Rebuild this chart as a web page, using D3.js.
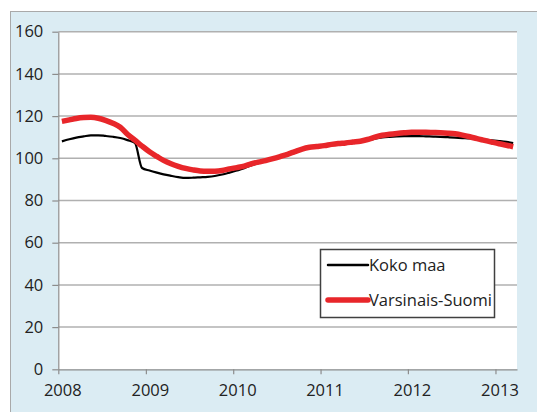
<!DOCTYPE html>
<html>
<head>
<meta charset="utf-8">
<script src="https://cdn.jsdelivr.net/npm/d3@7"></script>
<style>
  body { margin: 0; background: #fff; }
  svg text { font-family: "Open Sans", sans-serif; fill: #222; }
</style>
</head>
<body>
<div id="chart"></div>
<script>
//Width and height
var w = 537;
var h = 412;

// monthly index, Jan 2008 .. Mar 2013
var months = d3.range(0, 63).map(function (i) {
  return d3.timeFormat("%Y-%m")(new Date(2008, i, 1));
});

var kokoMaa = [108.0, 109.0, 109.8, 110.4, 110.9, 110.9, 110.6, 110.2, 109.6, 108.6,
               107.3, 95.4, 94.2, 93.2, 92.4, 91.7, 91.1, 90.7, 90.8, 91.0,
               91.2, 91.6, 92.3, 93.2, 94.2, 95.3, 96.6, 97.7, 98.6, 99.5,
               100.5, 101.6, 102.9, 104.1, 104.9, 105.3, 105.7, 106.3, 106.7, 107.0,
               107.4, 107.8, 108.5, 109.3, 109.9, 110.2, 110.4, 110.5, 110.5, 110.5,
               110.4, 110.3, 110.2, 110.0, 109.8, 109.6, 109.4, 109.1, 108.8, 108.5,
               108.2, 107.8, 107.2];

var varsinaisSuomi = [117.5, 118.2, 118.9, 119.3, 119.4, 119.0, 118.0, 116.6, 114.7, 111.4,
                      108.6, 105.8, 103.1, 100.9, 99.0, 97.4, 96.2, 95.2, 94.5, 94.0,
                      93.9, 93.9, 94.2, 95.0, 95.6, 96.3, 97.3, 98.2, 98.9, 99.8,
                      100.8, 101.9, 103.2, 104.4, 105.2, 105.6, 106.0, 106.6, 107.0, 107.3,
                      107.7, 108.1, 108.9, 110.0, 110.9, 111.4, 111.8, 112.1, 112.3, 112.3,
                      112.3, 112.2, 112.1, 111.9, 111.6, 111.0, 110.2, 109.3, 108.5, 107.7,
                      106.9, 106.2, 105.5];

var yTicks = [0, 20, 40, 60, 80, 100, 120, 140, 160];
var xYears = ["2008", "2009", "2010", "2011", "2012", "2013"];
var seriesNames = ["Koko maa", "Varsinais-Suomi"];

var parseMonth = d3.timeParse("%Y-%m");
// points sit in the middle of each month
function midMonth(s) {
  var d = parseMonth(s);
  return new Date(d.getFullYear(), d.getMonth(), 16);
}

var x = d3.scaleTime()
  .domain([new Date(2008, 0, 1), new Date(2013, 3, 1)])
  .range([58.3, 517]);

var y = d3.scaleLinear()
  .domain([0, 160])
  .range([369.3, 31.7]);

var svg = d3.select("#chart")
  .append("svg")
  .attr("width", w)
  .attr("height", h);

// outer chart area
svg.append("rect")
  .attr("x", 10.5)
  .attr("y", 11.5)
  .attr("width", 600)
  .attr("height", 500)
  .attr("fill", "#dbecf3")
  .attr("stroke", "#a9a9a9");

// plot area
svg.append("rect")
  .attr("x", x.range()[0])
  .attr("y", y(160))
  .attr("width", x.range()[1] - x.range()[0])
  .attr("height", y(0) - y(160))
  .attr("fill", "#fff");

// gridlines
svg.selectAll("line.grid")
  .data(yTicks.filter(function (d) { return d > 0; }))
  .enter()
  .append("line")
  .attr("class", "grid")
  .attr("x1", x.range()[0])
  .attr("x2", x.range()[1])
  .attr("y1", function (d) { return y(d); })
  .attr("y2", function (d) { return y(d); })
  .attr("stroke", "#b0b0b0")
  .attr("stroke-width", 1.5);

// y axis
var yAxis = svg.append("g")
  .attr("transform", "translate(" + x.range()[0] + ",0)")
  .call(d3.axisLeft(y).tickValues(yTicks).tickSize(6).tickPadding(9).tickSizeOuter(0));

// x axis
var xAxis = svg.append("g")
  .attr("transform", "translate(0," + y(0) + ")")
  .call(d3.axisBottom(x)
    .tickValues(xYears.map(function (s) { return new Date(+s, 0, 1); }))
    .tickFormat(d3.timeFormat("%Y"))
    .tickSize(5)
    .tickPadding(10)
    .tickSizeOuter(0));

[yAxis, xAxis].forEach(function (g) {
  g.select(".domain").attr("stroke", "#8c8c8c").attr("stroke-width", 1.2);
  g.selectAll(".tick line").attr("stroke", "#8c8c8c").attr("stroke-width", 1.2);
  g.selectAll(".tick text")
    .attr("fill", "#222")
    .style("font-family", "'Open Sans', sans-serif")
    .style("font-size", "16.5px");
});
xAxis.selectAll(".tick text").attr("dx", 4);

// lines
var line = d3.line()
  .x(function (d, i) { return x(midMonth(months[i])); })
  .y(function (d) { return y(d); })
  .curve(d3.curveMonotoneX);

svg.append("path")
  .datum(kokoMaa)
  .attr("d", line)
  .attr("fill", "none")
  .attr("stroke", "#000")
  .attr("stroke-width", 2.2);

svg.append("path")
  .datum(varsinaisSuomi)
  .attr("d", line)
  .attr("fill", "none")
  .attr("stroke", "#e8262a")
  .attr("stroke-width", 5.5)
  .attr("stroke-linejoin", "round");

// legend
var legend = svg.append("g");
legend.append("rect")
  .attr("x", 320.5)
  .attr("y", 249.5)
  .attr("width", 174)
  .attr("height", 68)
  .attr("fill", "#fff")
  .attr("stroke", "#404040")
  .attr("stroke-width", 1.5);

var legColors = ["#000", "#e8262a"];
var legWidths = [2.5, 5.5];
var item = legend.selectAll("g.item")
  .data(seriesNames)
  .enter()
  .append("g")
  .attr("class", "item")
  .attr("transform", function (d, i) { return "translate(328," + (265 + i * 35) + ")"; });

item.append("line")
  .attr("x1", 0)
  .attr("x2", 40)
  .attr("stroke", function (d, i) { return legColors[i]; })
  .attr("stroke-width", function (d, i) { return legWidths[i]; })
  .attr("stroke-linecap", "round");

item.append("text")
  .attr("x", 41)
  .attr("dy", "0.35em")
  .style("font-size", "16.5px")
  .text(function (d) { return d; });
</script>
</body>
</html>
